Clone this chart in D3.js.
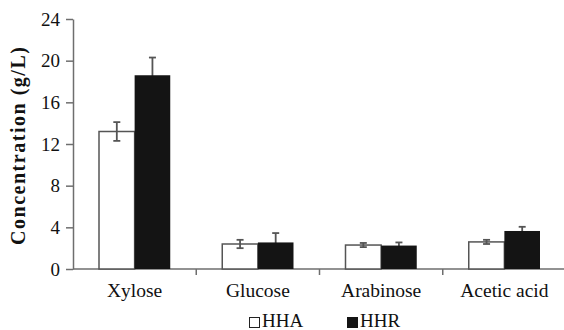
<!DOCTYPE html>
<html>
<head>
<meta charset="utf-8">
<script src="https://cdn.jsdelivr.net/npm/d3@7"></script>
<style>
  html, body { margin: 0; padding: 0; background: #fff; }
  svg { display: block; }
  svg text { font-family: "Times New Roman", Times, "Liberation Serif", "DejaVu Serif", serif; fill: #111; }
</style>
</head>
<body>
<svg id="chart" width="564" height="330"></svg>
<script>
// Sugar and acid concentrations in the two hydrolysates (g/L), mean ± SD
const categories = ["Xylose", "Glucose", "Arabinose", "Acetic acid"];
const seriesNames = ["HHA", "HHR"];
const hhaValues = [13.2, 2.4, 2.3, 2.6];
const hhaErrors = [0.9, 0.4, 0.2, 0.2];
const hhrValues = [18.6, 2.55, 2.25, 3.65];
const hhrErrors = [1.7, 0.9, 0.3, 0.4];
const yTicks = [0, 4, 8, 12, 16, 20, 24];

const serif = '"Times New Roman", Times, "Liberation Serif", "DejaVu Serif", serif';
const svg = d3.select("#chart");
const plotLeft = 73, plotRight = 566, plotTop = 19, plotBottom = 269;
const axisColor = "#6e6e6e";

const x = d3.scaleBand().domain(categories).range([plotLeft, plotRight]).paddingInner(0).paddingOuter(0);
const inner = d3.scaleBand().domain(seriesNames).range([26, x.bandwidth() - 26]);
const y = d3.scaleLinear().domain([0, 24]).range([plotBottom, plotTop]);

const rows = categories.map((c, i) => ({
  cat: c,
  bars: [
    { s: "HHA", v: hhaValues[i], e: hhaErrors[i] },
    { s: "HHR", v: hhrValues[i], e: hhrErrors[i] }
  ]
}));

// y axis
const yAxis = svg.append("g")
  .attr("transform", `translate(${plotLeft},0)`)
  .call(d3.axisLeft(y).tickValues(yTicks).tickSize(7).tickPadding(6).tickSizeOuter(0))
  .attr("font-family", serif).attr("font-size", 19);
yAxis.select(".domain").attr("stroke", axisColor).attr("stroke-width", 1.5);
yAxis.selectAll(".tick line").attr("stroke", axisColor).attr("stroke-width", 1.5);
yAxis.selectAll(".tick text").attr("fill", "#111");

// x axis: ticks sit at category boundaries
const xb = svg.append("g").attr("transform", `translate(0,${plotBottom})`)
  .attr("font-family", serif);
xb.append("line").attr("x1", plotLeft).attr("x2", plotRight).attr("stroke", axisColor).attr("stroke-width", 1.5);
xb.selectAll("line.tk").data(categories.slice(1)).join("line")
  .attr("class", "tk")
  .attr("x1", d => x(d)).attr("x2", d => x(d))
  .attr("y1", 0).attr("y2", 6)
  .attr("stroke", axisColor).attr("stroke-width", 1.5);
xb.selectAll("text.cat").data(categories).join("text")
  .attr("class", "cat")
  .attr("x", d => x(d) + x.bandwidth() / 2)
  .attr("y", 28)
  .attr("text-anchor", "middle")
  .attr("font-size", 19.5)
  .text(d => d);

const groups = svg.append("g");

// HHA bars (white)
groups.selectAll("rect.hha").data(rows).join("rect")
  .attr("class", "hha")
  .attr("x", d => x(d.cat) + inner("HHA"))
  .attr("width", inner.bandwidth())
  .attr("y", d => y(d.bars[0].v))
  .attr("height", d => y(0) - y(d.bars[0].v))
  .attr("fill", "#fff").attr("stroke", "#555").attr("stroke-width", 1.5);

// error bars
const errData = rows.flatMap(r => r.bars.map(b => ({ cat: r.cat, ...b })));
const eb = groups.selectAll("g.err").data(errData).join("g").attr("class", "err")
  .attr("stroke", "#555").attr("stroke-width", 1.8);
const cx = d => x(d.cat) + inner(d.s) + inner.bandwidth() / 2;
eb.append("line")
  .attr("x1", cx).attr("x2", cx)
  .attr("y1", d => y(d.v - d.e)).attr("y2", d => y(d.v + d.e));
eb.append("line")
  .attr("x1", d => cx(d) - 3.5).attr("x2", d => cx(d) + 3.5)
  .attr("y1", d => y(d.v + d.e)).attr("y2", d => y(d.v + d.e));
eb.append("line")
  .attr("x1", d => cx(d) - 3.5).attr("x2", d => cx(d) + 3.5)
  .attr("y1", d => y(d.v - d.e)).attr("y2", d => y(d.v - d.e));

// HHR bars (black), drawn over the lower half of their error bars
groups.selectAll("rect.hhr").data(rows).join("rect")
  .attr("class", "hhr")
  .attr("x", d => x(d.cat) + inner("HHR"))
  .attr("width", inner.bandwidth())
  .attr("y", d => y(d.bars[1].v))
  .attr("height", d => y(0) - y(d.bars[1].v))
  .attr("fill", "#141414");

// y axis title
svg.append("text")
  .attr("transform", `translate(25,${(plotTop + plotBottom) / 2 + 2}) rotate(-90)`)
  .attr("text-anchor", "middle")
  .attr("font-family", serif)
  .attr("font-size", 20).attr("font-weight", "bold")
  .attr("textLength", 198).attr("lengthAdjust", "spacing")
  .text("Concentration (g/L)");

// legend
const legend = svg.append("g").attr("transform", "translate(0,327)").attr("font-family", serif);
const legendX = [249, 347];
seriesNames.forEach((s, i) => {
  legend.append("rect")
    .attr("x", legendX[i] + 0.5).attr("y", -9.5).attr("width", 10).attr("height", 10)
    .attr("fill", i === 0 ? "#fff" : "#141414")
    .attr("stroke", i === 0 ? "#222" : "#141414").attr("stroke-width", 1);
  legend.append("text")
    .attr("x", legendX[i] + 13).attr("y", 0)
    .attr("font-size", 19)
    .text(s);
});
</script>
</body>
</html>
